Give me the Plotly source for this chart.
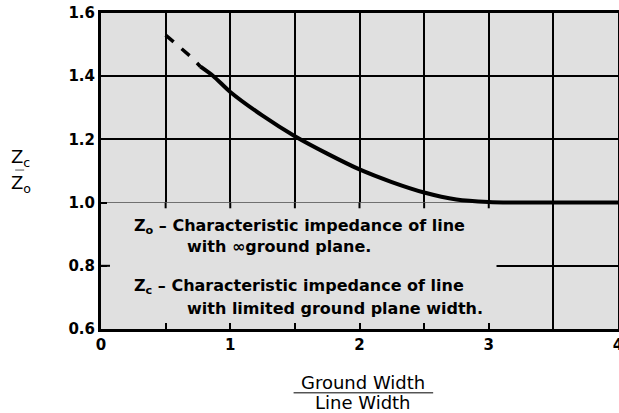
import plotly.graph_objects as go

#   Curve data
x_dash = [0.5, 0.6, 0.7, 0.77]
y_dash = [1.53, 1.495, 1.46, 1.43]
x_solid = [0.77, 0.87, 1.0, 1.25, 1.5, 1.75, 2.0, 2.25, 2.5, 2.75, 3.0, 3.25, 3.5, 4.0]
y_solid = [1.43, 1.40, 1.35, 1.275, 1.21, 1.155, 1.105, 1.065, 1.032, 1.01, 1.002, 1.0, 1.0, 1.0]

x_ticks = [0, 0.5, 1, 1.5, 2, 2.5, 3, 3.5, 4]
x_labels = ['0', '', '1', '', '2', '', '3', '', '4']
y_ticks = [0.6, 0.8, 1.0, 1.2, 1.4, 1.6]
y_labels = ['0.6', '0.8', '1.0', '1.2', '1.4', '1.6']
box_ticks = [0.5, 1, 1.5, 2, 2.5, 3]

FONT = 'DejaVu Sans'
BG = '#e0e0e0'

fig = go.Figure()

fig.add_trace(go.Scatter(x=x_dash, y=y_dash, mode='lines',
                         line=dict(color='black', width=3.5, dash='dash'),
                         showlegend=False))
fig.add_trace(go.Scatter(x=x_solid, y=y_solid, mode='lines',
                         line=dict(color='black', width=4, shape='spline', smoothing=0.6),
                         showlegend=False))

#   Box where the grid is blanked for the legend text
fig.add_shape(type='rect', x0=0, x1=3.06, y0=0.6, y1=1.0,
              fillcolor=BG, line=dict(width=0), layer='between')
for t in box_ticks:
    fig.add_shape(type='line', x0=t, x1=t, y0=1.0, y1=0.982,
                  line=dict(color='black', width=2))
fig.add_shape(type='line', x0=0, x1=0.12, y0=0.8, y1=0.8,
              line=dict(color='black', width=2, dash='dash'))

#   Legend text
notes = [
    (0.24, 0.923, '<b>Z<sub>o</sub> \u2013 Characteristic impedance of line</b>'),
    (0.65, 0.86, '<b>with \u221eground plane.</b>'),
    (0.24, 0.733, '<b>Z<sub>c</sub> \u2013 Characteristic impedance of line</b>'),
    (0.65, 0.666, '<b>with limited ground plane width.</b>'),
]
for nx, ny, txt in notes:
    fig.add_annotation(x=nx, y=ny, text=txt, showarrow=False,
                       xanchor='left', yanchor='middle',
                       font=dict(family=FONT, size=16, color='black'))

#   Y title as a fraction
fig.add_annotation(xref='paper', yref='paper', x=-0.178, y=0.541,
                   text='Z<sub>c</sub>', showarrow=False,
                   xanchor='left', yanchor='middle',
                   font=dict(family=FONT, size=18, color='black'))
fig.add_annotation(xref='paper', yref='paper', x=-0.178, y=0.459,
                   text='Z<sub>o</sub>', showarrow=False,
                   xanchor='left', yanchor='middle',
                   font=dict(family=FONT, size=18, color='black'))
fig.add_shape(type='line', xref='paper', yref='paper',
              x0=-0.166, x1=-0.143, y0=0.503, y1=0.503,
              line=dict(color='#555555', width=1, dash='dash'))

#   X title as a fraction
fig.add_annotation(xref='x', yref='paper', x=2.03, y=-0.168,
                   text='Ground Width', showarrow=False, yanchor='middle',
                   font=dict(family=FONT, size=18, color='black'))
fig.add_annotation(xref='x', yref='paper', x=2.03, y=-0.232,
                   text='Line Width', showarrow=False, yanchor='middle',
                   font=dict(family=FONT, size=18, color='black'))
fig.add_shape(type='line', xref='x', yref='paper',
              x0=1.49, x1=2.57, y0=-0.202, y1=-0.202,
              line=dict(color='black', width=1))

fig.update_layout(
    width=619, height=413,
    margin=dict(l=101, r=1, t=13, b=84),
    paper_bgcolor='white', plot_bgcolor=BG,
    font=dict(family=FONT, size=15, color='black'),
    showlegend=False,
)
fig.update_xaxes(range=[0, 4], tickvals=x_ticks, ticktext=x_labels,
                 automargin=False, ticklabeloverflow='allow',
                 showgrid=True, gridcolor='black', gridwidth=2,
                 zeroline=False, showline=True, linecolor='black', linewidth=3,
                 mirror=True, ticks='inside', ticklen=6, tickwidth=2,
                 tickcolor='black', tickfont=dict(size=15, weight='bold'))
fig.update_yaxes(range=[0.6, 1.6], tickvals=y_ticks, ticktext=y_labels,
                 automargin=False, ticklabeloverflow='allow',
                 showgrid=True, gridcolor='black', gridwidth=2,
                 zeroline=False, showline=True, linecolor='black', linewidth=3,
                 mirror=True, ticks='inside', ticklen=6, tickwidth=2,
                 tickcolor='black', tickfont=dict(size=15, weight='bold'))

#   drop the page's default body margin so the figure fills the window
fig.write_html("out.html", config={'displayModeBar': False},
               post_script="document.body.style.margin='0';")
